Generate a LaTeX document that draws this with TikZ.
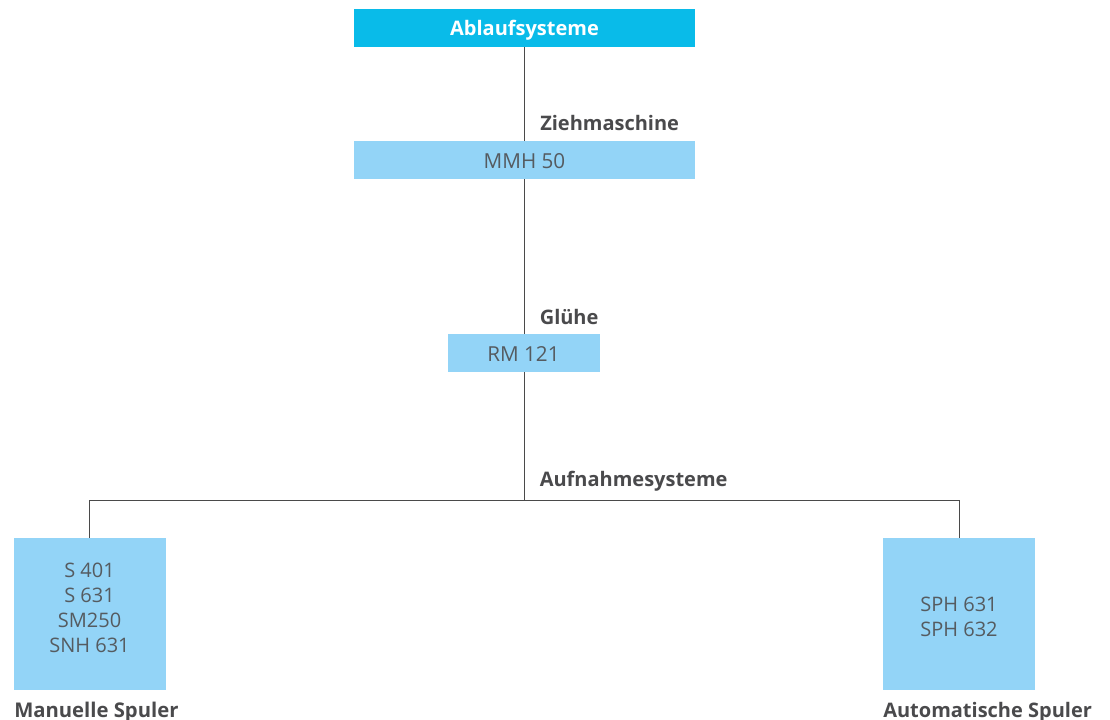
\documentclass[tikz,border=0pt]{standalone}
\usepackage{fontspec}
\setmainfont{Open Sans}
\definecolor{topc}{HTML}{09BBE9}
\definecolor{boxc}{HTML}{93D4F7}
\definecolor{txt}{HTML}{555B60}
\definecolor{head}{HTML}{4A4A4C}
\definecolor{linec}{HTML}{4A4A4A}
\tikzset{x=0.75pt,y=-0.75pt,
 boxn/.style={fill=boxc,inner sep=0,align=center},
 lbl/.style={text=txt,inner sep=0,align=center,font=\fontsize{15}{18.75}\selectfont},
 lblw/.style={lbl,font=\fontsize{15.5}{18.75}\selectfont},
 hd/.style={anchor=base west,inner sep=0,text=head,font=\fontsize{15}{18}\selectfont\bfseries},
 conn/.style={draw=linec,line width=1.1pt}}
\begin{document}
\begin{tikzpicture}
\useasboundingbox (0,0) rectangle (1110,720);
\coordinate (j) at (524.5,500.5);
\coordinate (jl) at (89.5,500.5);
\coordinate (jr) at (959.5,500.5);
\node[boxn,minimum width=256pt,minimum height=28.5pt,fill=topc] (a) at (524.5,28) {};
\node[boxn,minimum width=256pt,minimum height=28.5pt] (b) at (524.5,160) {};
\node[boxn,minimum width=114pt,minimum height=28.5pt] (c) at (524,353) {};
\node[boxn,minimum width=114pt,minimum height=114pt] (d) at (90,614) {};
\node[boxn,minimum width=114pt,minimum height=114pt] (e) at (959,614) {};
\draw[conn] (a.south) -- (b.north);
\draw[conn] (b.south) -- (b.south |- c.north);
\draw[conn] (j |- c.south) -- (j);
\draw[conn] (d.north -| jl) -- (jl) -- (jr) -- (e.north -| jr);
\node[inner sep=0,text=white,font=\fontsize{15}{18}\selectfont\bfseries] (at) at (524.5,30) {Ablaufsysteme};
\node[lblw] (bt) at (524.5,161) {MMH 50};
\node[lblw] (ct) at (523.5,354) {RM 121};
\node[lbl] (dt) at (89.5,608) {S 401\\S 631\\SM250\\SNH 631};
\node[lbl] (et) at (959,617) {SPH 631\\SPH 632};
\node[hd] (h1) at (540,131) {Ziehmaschine};
\node[hd] (h2) at (539.5,325) {Glühe};
\node[hd] (h3) at (539.5,486) {Aufnahmesysteme};
\node[hd,font=\fontsize{15.2}{18}\selectfont\bfseries] (h4) at (14,717) {Manuelle Spuler};
\node[hd] (h5) at (883,717) {Automatische Spuler};
\end{tikzpicture}
\end{document}
